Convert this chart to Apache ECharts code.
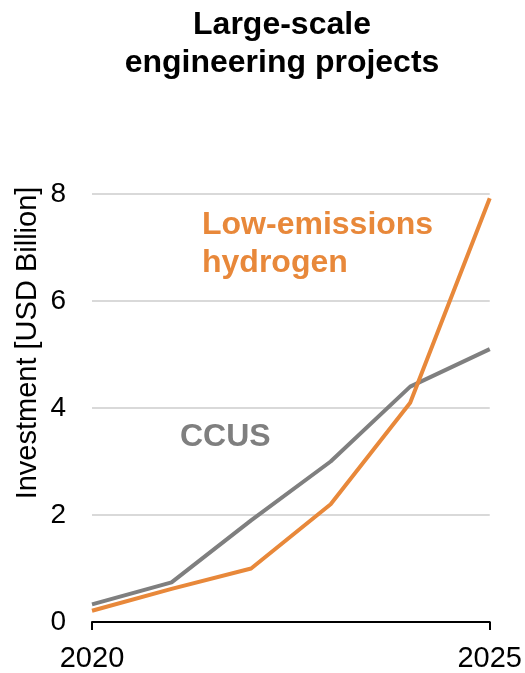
<!DOCTYPE html>
<html>
<head>
<meta charset="utf-8">
<script src="https://cdn.jsdelivr.net/npm/echarts@6/dist/echarts.min.js"></script>
<style>
  html, body { margin: 0; padding: 0; background: #fff; }
  #chart { width: 525px; height: 673px; }
</style>
</head>
<body>
<div id="chart"></div>
<script>
var years = ['2020', '2021', '2022', '2023', '2024', '2025'];
var ccus = [0.33, 0.74, 1.9, 3.0, 4.4, 5.1];
var hydrogen = [0.21, 0.62, 1.0, 2.2, 4.1, 7.92];
var yTicks = [0, 2, 4, 6, 8];

var chart = echarts.init(document.getElementById('chart'));
var font = 'Liberation Sans, Arial, sans-serif';
var lastIdx = years.length - 1;

var option = {
    animation: false,
    title: {
        text: 'Large-scale\nengineering projects',
        left: 277,
        top: 1,
        textAlign: 'center',
        textStyle: { fontFamily: font, fontSize: 32, fontWeight: 'bold', color: '#000', lineHeight: 38 }
    },
    grid: { left: 92, right: 34, top: 194, bottom: 50, containLabel: false },
    xAxis: {
        type: 'category',
        data: years,
        boundaryGap: false,
        axisLine: { show: true, lineStyle: { color: '#000', width: 2 } },
        axisTick: {
            show: true, length: 8, inside: false,
            interval: function (i) { return i === 0 || i === lastIdx; },
            lineStyle: { color: '#000', width: 2 }
        },
        axisLabel: {
            interval: function (i) { return i === 0 || i === lastIdx; },
            margin: 22,
            fontFamily: font, fontSize: 29, color: '#000'
        },
        splitLine: { show: false }
    },
    yAxis: {
        type: 'value',
        min: yTicks[0],
        max: yTicks[yTicks.length - 1],
        interval: 2,
        axisLine: { show: false },
        axisTick: { show: false },
        axisLabel: { margin: 26, fontFamily: font, fontSize: 28, color: '#000' },
        splitLine: { show: true, lineStyle: { color: '#d9d9d9', width: 2 } }
    },
    series: [
        {
            name: 'CCUS', type: 'line', data: ccus,
            symbol: 'none', lineStyle: { color: '#7f7f7f', width: 4 }, z: 2
        },
        {
            name: 'Low-emissions hydrogen', type: 'line', data: hydrogen,
            symbol: 'none', lineStyle: { color: '#e8883a', width: 4 }, z: 3
        }
    ],
    graphic: [
        {
            type: 'text', x: 28, y: 343, rotation: Math.PI / 2,
            style: {
                text: 'Investment [USD Billion]', fill: '#000',
                font: '29px ' + font, align: 'center', verticalAlign: 'middle'
            }
        },
        {
            type: 'text', left: 180, top: 418,
            style: { text: 'CCUS', fill: '#7f7f7f', font: 'bold 32px ' + font, lineHeight: 38 }
        },
        {
            type: 'text', left: 202, top: 206,
            style: { text: 'Low-emissions\nhydrogen', fill: '#e8883a', font: 'bold 32px ' + font, lineHeight: 38 }
        }
    ]
};

chart.setOption(option);
</script>
</body>
</html>
